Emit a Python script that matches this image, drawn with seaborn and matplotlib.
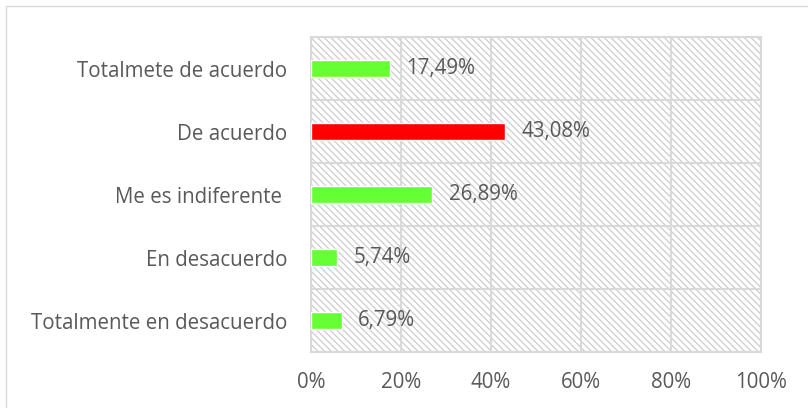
import numpy as np
import pandas as pd
import matplotlib.pyplot as plt
import seaborn as sns
from matplotlib.patches import Rectangle
from matplotlib.ticker import FixedLocator

# données
categorias = ["Totalmete de acuerdo", "De acuerdo", "Me es indiferente ",
              "En desacuerdo", "Totalmente en desacuerdo"]
porcentajes = [17.49, 43.08, 26.89, 5.74, 6.79]
colores = ["#66FF33", "#FF0000", "#66FF33", "#66FF33", "#66FF33"]
xticks = [0, 20, 40, 60, 80, 100]

df = pd.DataFrame({"cat": categorias, "pct": porcentajes})

sns.set_style("white")
plt.rcParams['font.family'] = ['Open Sans', 'DejaVu Sans']
plt.rcParams['hatch.linewidth'] = 0.9
gris = "#595959"
linea = "#D9D9D9"
fs = 14.8

fig = plt.figure(figsize=(8.08, 4.08), dpi=100)
ax = fig.add_axes([0.385, 0.137, 0.557, 0.772])

# fond hachuré
ax.add_patch(Rectangle((0, 0), 1, 1, transform=ax.transAxes, facecolor="white",
                       edgecolor="#CDCDCD", hatch="\\\\\\\\\\", linewidth=0, zorder=0))

sns.barplot(data=df, y="cat", x="pct", hue="cat", palette=colores, legend=False,
            width=0.27, saturation=1, ax=ax, zorder=3)

ax.set_xlim(0, 100)
ax.set_ylim(4.5, -0.5)
ax.set_xticks(xticks)
ax.set_xticklabels([f"{t}%" for t in xticks])
ax.yaxis.set_minor_locator(FixedLocator(np.arange(-0.5, 5, 1)))
ax.grid(axis="x", color=linea, linewidth=1.5, zorder=1)
ax.grid(axis="y", which="minor", color=linea, linewidth=1.5, zorder=1)
ax.set_axisbelow(True)
for s in ax.spines.values():
    s.set_color(linea)
    s.set_linewidth(1.5)
ax.tick_params(axis="both", which="both", length=0, labelsize=fs, colors=gris)
ax.tick_params(axis="y", pad=17)
ax.tick_params(axis="x", pad=14)
ax.set_xlabel("")
ax.set_ylabel("")

for i, v in enumerate(porcentajes):
    ax.annotate(f"{v:.2f}%".replace(".", ","), (v, i), xytext=(12, 0),
                textcoords="offset points", va="center", ha="left",
                fontsize=fs, color=gris, zorder=4)

# bordure du graphique
fig.add_artist(Rectangle((0.008, -0.05), 1.1, 1.035, transform=fig.transFigure,
                         fill=False, edgecolor="#D9D9D9", linewidth=1))

fig.savefig("out.png", dpi=100)
